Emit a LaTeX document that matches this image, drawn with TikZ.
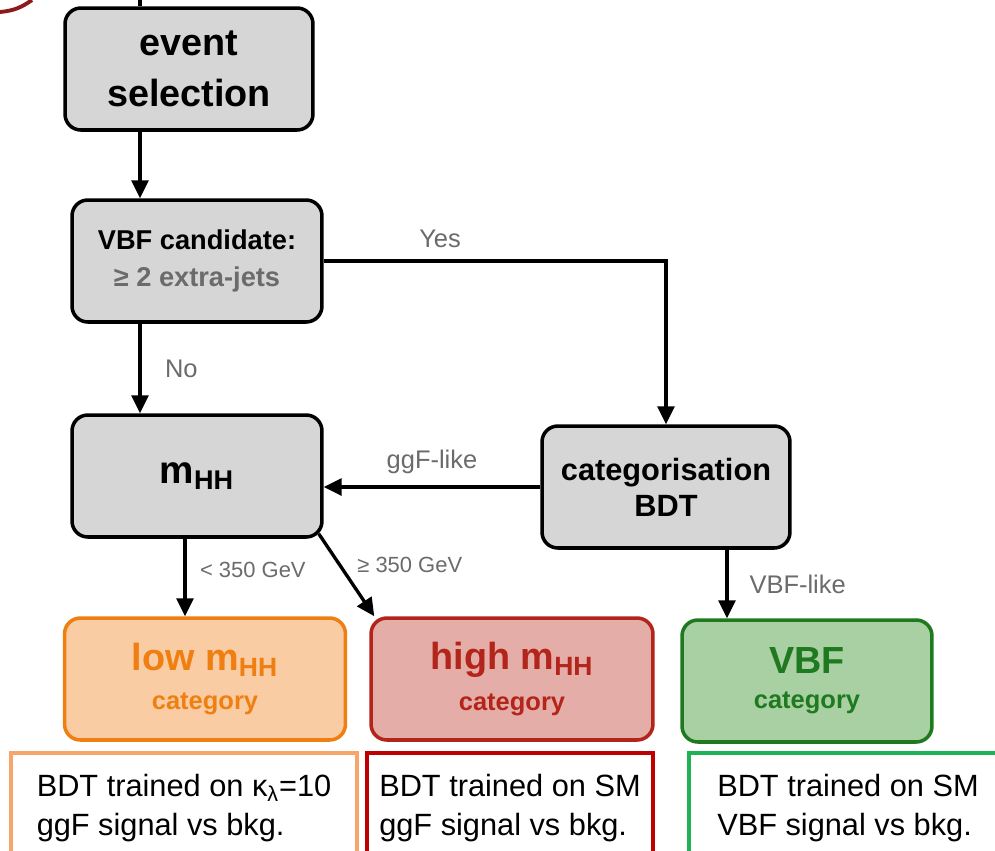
\documentclass[tikz,border=0pt]{standalone}
\usepackage{fontspec}
\setmainfont{Liberation Sans}
\usepackage{tikz}
\usetikzlibrary{arrows.meta,positioning}

\definecolor{boxgray}{HTML}{D6D6D6}
\definecolor{labgray}{HTML}{6B6B6B}
\definecolor{lowfill}{HTML}{F9CCA3}
\definecolor{lowline}{HTML}{F07F12}
\definecolor{highfill}{HTML}{E5ADA8}
\definecolor{highline}{HTML}{B3241A}
\definecolor{vbffill}{HTML}{A8D0A3}
\definecolor{vbfline}{HTML}{1F7A1F}
\definecolor{lownote}{HTML}{F7A56A}
\definecolor{highnote}{HTML}{C00000}
\definecolor{vbfnote}{HTML}{1DB254}
\definecolor{darkred}{HTML}{8E1B1B}

\newcommand{\fs}[2]{\fontsize{#1}{#2}\selectfont}

\begin{document}
\begin{tikzpicture}[x=0.02cm,y=-0.02cm,
proc/.style={draw,line width=2pt,rounded corners=9pt,fill=boxgray,minimum width=4.96cm,minimum height=2.44cm,align=center,font=\bfseries},
cat/.style={draw,line width=2pt,rounded corners=9pt,minimum width=5.62cm,minimum height=2.44cm,align=center,font=\bfseries},
note/.style={draw,line width=2.4pt,minimum height=2.2cm,align=left,font=\fs{17.5}{22.5}},
lbl/.style={text=labgray,font=\fs{14.5}{17}},
small/.style={text=labgray,font=\fs{12.5}{15}},
t/.style={line width=1.9pt,-{Triangle[length=0.36cm,width=0.34cm]}}
]
\clip (0,0) rectangle (995,850);

% process boxes
\node[proc,font=\bfseries\fs{21.5}{29}] (sel) at (189,69) {event\\selection};
\node[proc,minimum width=5cm,font=\bfseries\fs{15.5}{21}] (vbfc) at (197,261) {VBF candidate:\\\textcolor{labgray}{≥ 2 extra-jets}};
\node[proc,minimum width=5cm] (mhh) at (197,476) {\fs{22}{26}m\textsubscript{HH}};
\node[proc,font=\bfseries\fs{17.5}{20.5}] (catbdt) at (666,487) {categorisation\\BDT};

% categories
\node[cat,fill=lowfill,draw=lowline,text=lowline] (low) at (205,679)
  {{\fs{21.5}{25}low m\textsubscript{HH}}\\[8pt]{\fs{14.5}{17}category}};
\node[cat,fill=highfill,draw=highline,text=highline,minimum width=5.64cm] (high) at (512,679)
  {{\fs{21.5}{25}high m\textsubscript{HH}}\\[8pt]{\fs{14.5}{17}category}};
\node[cat,fill=vbffill,draw=vbfline,text=vbfline,minimum width=5cm] (vbf) at (807,681)
  {{\fs{21.5}{25}VBF}\\[8pt]{\fs{14.5}{17}category}};

% BDT notes under the categories
\node[note,draw=lownote,minimum width=6.92cm] (lownt) at (184,808)
  {BDT trained on κ\textsubscript{λ}=10\\ggF signal vs bkg.};
\node[note,draw=highnote,minimum width=5.72cm] (highnt) at (510,808)
  {BDT trained on SM\\ggF signal vs bkg.};
\node[note,draw=vbfnote,minimum width=6.36cm] (vbfnt) at (848,808)
  {BDT trained on SM\\VBF signal vs bkg.};

\coordinate (spine) at (140,0);
\coordinate (lowx) at (185,0);
\coordinate (vbfx) at (727,0);

% arrows
\draw[line width=1.9pt] (spine) -- (sel.north -| spine);
\draw[darkred,line width=2.2pt] (0,12) to[bend right=15] (32,0);
\draw[t] (sel.south -| spine) -- (vbfc.north -| spine);
\draw[t] (vbfc.south -| spine) -- node[lbl,right=0.35cm]{No} (mhh.north -| spine);
\draw[t] (vbfc.east) -| node[lbl,above=3pt,pos=0.17]{Yes} (catbdt.north);
\draw[t] (catbdt.west) -- node[lbl,above=3pt]{ggF-like} (catbdt.west -| mhh.east);
\draw[t] (mhh.south -| lowx) -- node[small,right=0.15cm,pos=0.4]{< 350 GeV} (low.north -| lowx);
\draw[t] ([xshift=-0.1cm,yshift=0.1cm]mhh.south east) -- node[small,right=0.2cm,pos=0.38]{≥ 350 GeV} ([xshift=0.1cm]high.north west);
\draw[t] (catbdt.south -| vbfx) -- node[lbl,right=0.3cm]{VBF-like} (vbf.north -| vbfx);
\end{tikzpicture}
\end{document}
